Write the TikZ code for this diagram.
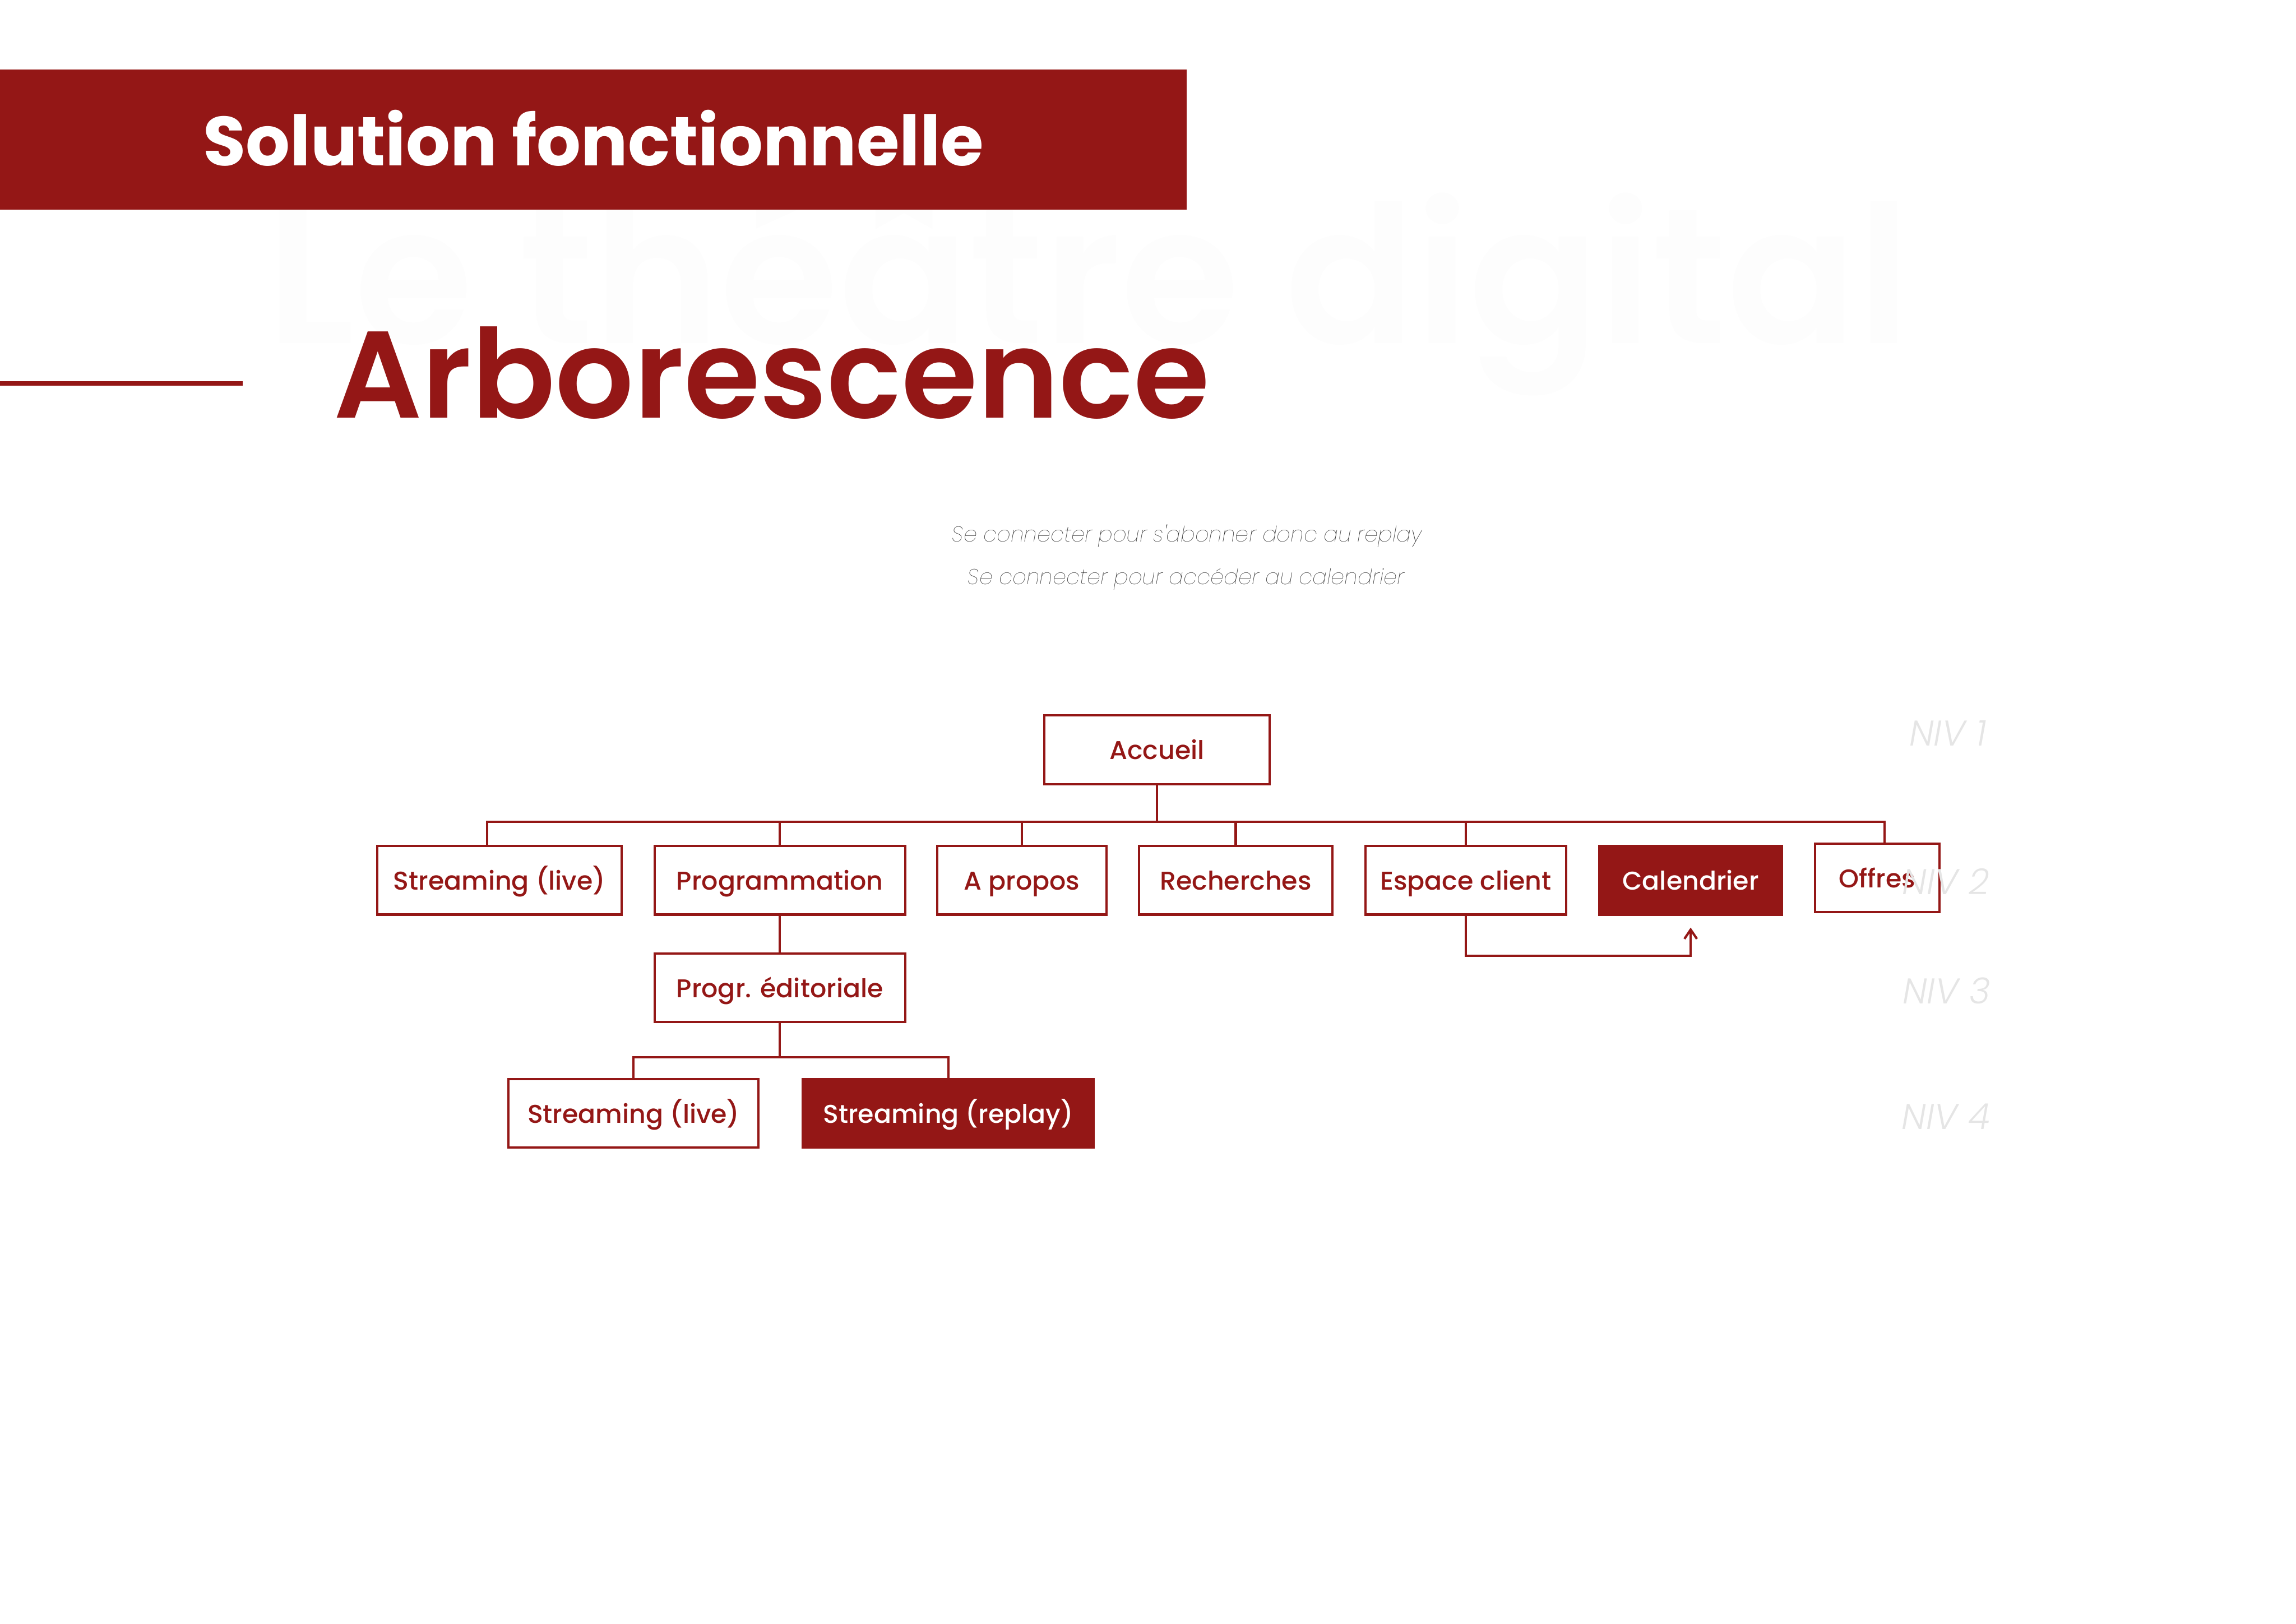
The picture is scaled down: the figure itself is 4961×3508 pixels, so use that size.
\documentclass[tikz,border=0pt]{standalone}
\usepackage{fontspec}
\setmainfont{Poppins}[UprightFont=* Medium,BoldFont=* Bold,ItalicFont=* Light Italic]
\newfontfamily\popsemi{Poppins}[UprightFont=* SemiBold]
\newfontfamily\popthin{Poppins}[UprightFont=* Thin Italic]
\usetikzlibrary{positioning,arrows.meta}
\definecolor{bordeaux}{HTML}{941716}
\tikzset{
menubox/.style = {draw = bordeaux, line width = 0.05cm, shape = rectangle, minimum height = 1.48cm, inner sep = 0pt, text = bordeaux, font = \fontsize{15.8}{15.8}\selectfont, text height = 0.55cm, text depth = 0.13cm},
menufull/.style = {menubox, fill = bordeaux, text = white},
link/.style = {draw = bordeaux, line width = 0.05cm},
niveau/.style = {anchor = base east, text = black!10, font = \fontsize{22}{22}\itshape},
note/.style = {anchor = base, text = black!85, font = \fontsize{13.2}{13.2}\popthin}
}
\begin{document}
\begin{tikzpicture}[x = 0.01cm, y = -0.01cm]
\useasboundingbox (0,0) rectangle (4961,3508);
\node[anchor = base west, inner sep = 0pt, text = black!0.8, font = \fontsize{118}{118}\popsemi] (fond) at (575,742) {Le théâtre digital};
\fill[bordeaux] (0,150) rectangle (2564,453);
\node[anchor = base west, inner sep = 0pt, text = white, font = \fontsize{42.7}{42.7}\bfseries] (titre) at (438,358) {Solution fonctionnelle};
\fill[bordeaux] (0,823) rectangle (524,833);
\node[anchor = base west, inner sep = 0pt, text = bordeaux, font = \fontsize{75.8}{75.8}\popsemi] (sujet) at (720,903) {Arborescence};
\node[note] (n1) at (2565,1171) {Se connecter pour s'abonner donc au replay};
\node[note] (n2) at (2563,1263) {Se connecter pour accéder au calendrier};

\node[menubox, minimum width = 4.86cm] (10) at (2500,1620) {Accueil};
\node[menubox, minimum width = 5.28cm] (20) at (1079,1902) {Streaming (live)};
\node[menubox, minimum width = 5.41cm] (21) at (1685,1902) {Programmation};
\node[menubox, minimum width = 3.65cm] (22) at (2208,1902) {A propos};
\node[menubox, minimum width = 4.17cm] (23) at (2670,1902) {Recherches};
\node[menubox, minimum width = 4.34cm] (24) at (3167,1902) {Espace client};
\node[menufull, minimum width = 3.94cm] (25) at (3653,1902) {Calendrier};
\node[menubox, minimum width = 2.69cm] (26) at (4056,1897) {Offres};
\node[menubox, minimum width = 5.41cm] (30) at (1685,2134) {Progr. éditoriale};
\node[menubox, minimum width = 5.40cm] (40) at (1369,2405) {Streaming (live)};
\node[menufull, minimum width = 6.28cm] (41) at (2049,2405) {Streaming (replay)};

\coordinate (bus1) at (2500,1776);
\coordinate (bus2) at (1685,2284);
\coordinate (coude) at (3653,2065);
\coordinate (fleche) at (3653,2004);
\draw[link] (10) -- (bus1);
\draw[link] ([xshift = -0.26cm]20.north) |- (bus1) -| ([xshift = 0.16cm]26.north);
\foreach \n in {21,22,23,24}
\draw[link] (\n.north) -- (\n.north |- bus1);
\draw[link] (21.south) -- (30.north);
\draw[link] (30.south) -- (bus2);
\draw[link] (40.north) |- (bus2) -| (41.north);
\draw[link, -{Straight Barb[length = 0.2cm, width = 0.27cm]}] (24.south) |- (coude) -- (fleche);

\node[niveau] (niv1) at (4305,1611) {NIV 1};
\node[niveau] (niv2) at (4311,1932) {NIV 2};
\node[niveau] (niv3) at (4313,2169) {NIV 3};
\node[niveau] (niv4) at (4313,2440) {NIV 4};
\end{tikzpicture}
\end{document}
